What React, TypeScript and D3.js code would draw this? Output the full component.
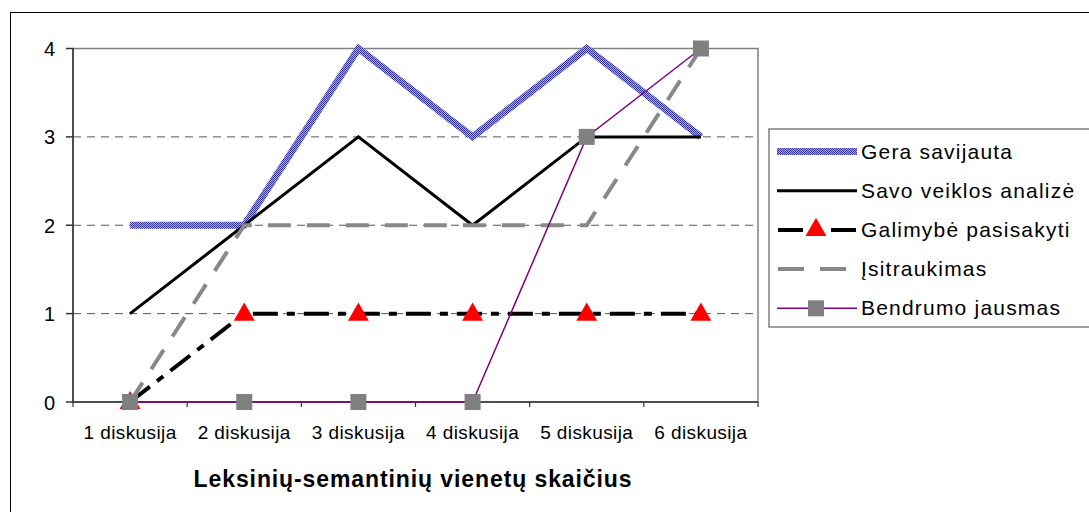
import React from 'react';
import * as d3 from 'd3';

const categories = ['1 diskusija', '2 diskusija', '3 diskusija', '4 diskusija', '5 diskusija', '6 diskusija'];
const yTicks = [0, 1, 2, 3, 4];

const geraSavijauta = [2, 2, 4, 3, 4, 3];
const savoVeiklos = [1, 2, 3, 2, 3, 3];
const galimybe = [0, 1, 1, 1, 1, 1];
const isitraukimas = [0, 2, 2, 2, 2, 4];
const bendrumo = [0, 0, 0, 0, 3, 4];

const seriesNames = [
  'Gera savijauta',
  'Savo veiklos analizė',
  'Galimybė pasisakyti',
  'Įsitraukimas',
  'Bendrumo jausmas',
];

const W = 1089;
const H = 512;
const plot = { left: 73, right: 758, top: 48.5, bottom: 402 };
const font = '"Liberation Sans", Arial, sans-serif';

const App: React.FC = () => {
  // scales
  const x = d3.scaleBand<string>().domain(categories).range([plot.left, plot.right]);
  const y = d3.scaleLinear().domain([0, 4]).range([plot.bottom, plot.top]);
  const cx = (c: string) => x(c)! + x.bandwidth() / 2;

  const line = d3
    .line<number>()
    .x((_, i) => cx(categories[i]))
    .y(d => y(d));

  const tri = d3.symbol().type(d3.symbolTriangle).size(190);

  // legend rows
  const legX = 769;
  const rowY = (i: number) => 151.5 + i * 39.2;

  return (
    <svg width={W} height={H} style={{ position: 'absolute', left: 0, top: 0, background: '#fff' }}>
      <defs>
        <pattern id="checker" width={2} height={2} patternUnits="userSpaceOnUse">
          <rect width={2} height={2} fill="#a9addf" />
          <rect width={1} height={1} fill="#33339a" />
          <rect x={1} y={1} width={1} height={1} fill="#33339a" />
        </pattern>
      </defs>

      {/* outer chart border */}
      <rect x={10.5} y={12.5} width={W + 10} height={H + 10} fill="none" stroke="#000" strokeWidth={1} />

      {/* plot border (top/right) */}
      <rect x={plot.left} y={plot.top} width={plot.right - plot.left} height={plot.bottom - plot.top}
        fill="none" stroke="#808080" strokeWidth={1.5} />

      {/* gridlines */}
      {yTicks.filter(t => t > 0 && t < 4).map(t => (
        <line key={t} x1={plot.left} x2={plot.right} y1={y(t)} y2={y(t)}
          stroke="#555" strokeWidth={1} strokeDasharray="8,6" />
      ))}

      {/* axes */}
      <line x1={plot.left} x2={plot.left} y1={plot.top} y2={plot.bottom} stroke="#333" strokeWidth={1.5} />
      <line x1={plot.left} x2={plot.right} y1={plot.bottom} y2={plot.bottom} stroke="#333" strokeWidth={1.5} />
      {yTicks.map(t => (
        <g key={t}>
          <line x1={plot.left - 7} x2={plot.left} y1={y(t)} y2={y(t)} stroke="#333" strokeWidth={1.5} />
          <text x={55} y={y(t) + 7.5} textAnchor="end" fontFamily={font} fontSize={20}>{t}</text>
        </g>
      ))}
      {categories.map((c, i) => (
        <g key={c}>
          <line x1={x(c)!} x2={x(c)!} y1={plot.bottom} y2={plot.bottom + 5} stroke="#333" strokeWidth={1.2} />
          {i === categories.length - 1 && (
            <line x1={plot.right} x2={plot.right} y1={plot.bottom} y2={plot.bottom + 5} stroke="#333" strokeWidth={1.2} />
          )}
          <text x={cx(c)} y={438.5} textAnchor="middle" fontFamily={font} fontSize={19} letterSpacing={0.4}>{c}</text>
        </g>
      ))}
      <text x={413} y={487} textAnchor="middle" fontFamily={font} fontSize={23} fontWeight="bold" letterSpacing={0.9}>
        Leksinių-semantinių vienetų skaičius
      </text>

      {/* series */}
      <path d={line(geraSavijauta)!} fill="none" stroke="url(#checker)" strokeWidth={7} />
      <path d={line(savoVeiklos)!} fill="none" stroke="#000" strokeWidth={3} />
      <path d={line(galimybe)!} fill="none" stroke="#000" strokeWidth={4} strokeDasharray="25,9,8,9" />
      {galimybe.map((v, i) => (
        <path key={i} d={tri()!} transform={`translate(${cx(categories[i])},${y(v) + 1})`} fill="#ff0000" />
      ))}
      <path d={line(isitraukimas)!} fill="none" stroke="#888" strokeWidth={4} strokeDasharray="23,16" />
      <path d={line(bendrumo)!} fill="none" stroke="#800080" strokeWidth={1.5} />
      {bendrumo.map((v, i) => (
        <rect key={i} x={cx(categories[i]) - 8} y={y(v) - 8} width={16} height={16} fill="#808080" />
      ))}

      {/* legend */}
      <rect x={legX} y={129} width={W - legX + 10} height={198} fill="#fff" stroke="#808080" strokeWidth={1.5} />
      {seriesNames.map((name, i) => {
        const ly = rowY(i);
        return (
          <g key={name}>
            {i === 0 && <line x1={777} x2={857} y1={ly} y2={ly} stroke="url(#checker)" strokeWidth={7} />}
            {i === 1 && <line x1={777} x2={857} y1={ly} y2={ly} stroke="#000" strokeWidth={3} />}
            {i === 2 && (
              <>
                <line x1={778} x2={857} y1={ly} y2={ly} stroke="#000" strokeWidth={4} strokeDasharray="25,11,8,9" />
                <rect x={808} y={ly - 12} width={22} height={24} fill="#fff" />
                <path d={tri()!} transform={`translate(${816},${ly})`} fill="#ff0000" />
              </>
            )}
            {i === 3 && <line x1={778} x2={857} y1={ly} y2={ly} stroke="#888" strokeWidth={4} strokeDasharray="26,16" />}
            {i === 4 && (
              <>
                <line x1={777} x2={857} y1={ly} y2={ly} stroke="#800080" strokeWidth={1.5} />
                <rect x={808} y={ly - 8} width={16} height={16} fill="#808080" />
              </>
            )}
            <text x={861} y={ly + 7} fontFamily={font} fontSize={21} letterSpacing={1.2}>{name}</text>
          </g>
        );
      })}
    </svg>
  );
};

export default App;
